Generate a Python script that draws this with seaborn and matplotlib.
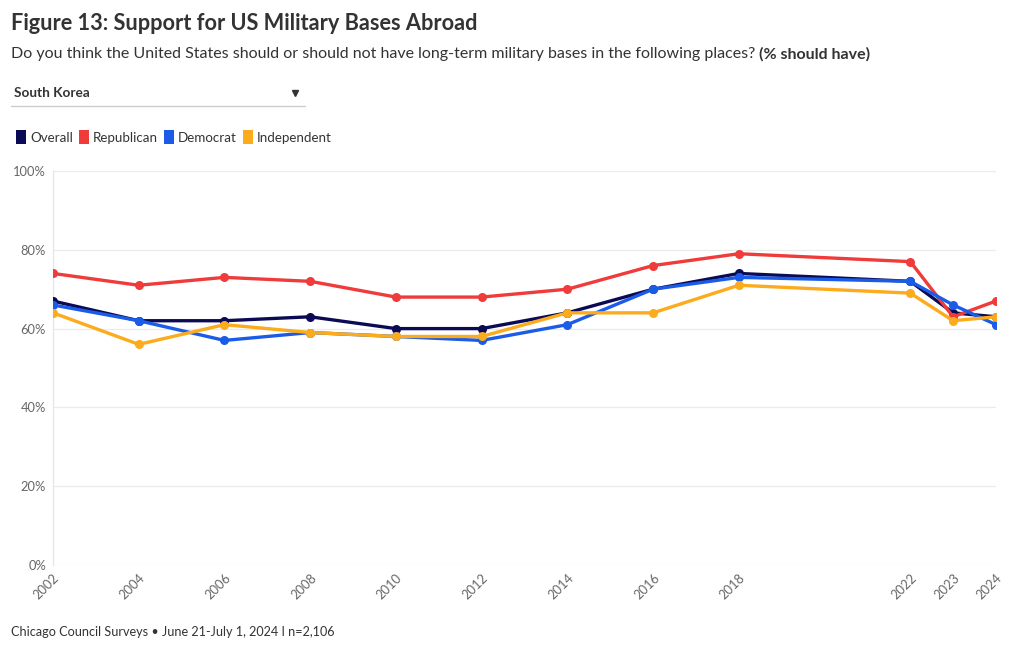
import numpy as np
import pandas as pd
import matplotlib
matplotlib.use("Agg")
import matplotlib.pyplot as plt
from matplotlib.lines import Line2D
from matplotlib.patches import Patch
import seaborn as sns

years = [2002, 2004, 2006, 2008, 2010, 2012, 2014, 2016, 2018, 2022, 2023, 2024]
overall = [67, 62, 62, 63, 60, 60, 64, 70, 74, 72, 64, 63]
republican = [74, 71, 73, 72, 68, 68, 70, 76, 79, 77, 63, 67]
democrat = [66, 62, 57, 59, 58, 57, 61, 70, 73, 72, 66, 61]
independent = [64, 56, 61, 59, 58, 58, 64, 64, 71, 69, 62, 63]
series_names = ["Overall", "Republican", "Democrat", "Independent"]
colors = ["#0b0b55", "#f03b3b", "#1a5be8", "#fbab1c"]
y_ticks = [0, 20, 40, 60, 80, 100]

sns.set_theme(style="white")
plt.rcParams["font.family"] = ["Lato", "DejaVu Sans"]

rows = []
for name, vals in zip(series_names, [overall, republican, democrat, independent]):
    for y, v in zip(years, vals):
        rows.append({"year": y, "value": v, "group": name})
df = pd.DataFrame(rows)

fig = plt.figure(figsize=(10.2, 6.5), dpi=100)
ax = fig.add_axes([53 / 1020, 1 - 565 / 650, (996 - 53) / 1020, (565 - 171) / 650])

sns.lineplot(data=df, x="year", y="value", hue="group", hue_order=series_names,
             palette=colors, marker="o", markersize=6.5, markeredgewidth=0,
             linewidth=2.4, ax=ax, legend=False, zorder=3)

ax.set_xlim(2002, 2024)
ax.set_ylim(0, 100)
ax.set_yticks(y_ticks)
ax.set_yticklabels([f"{t}%" for t in y_ticks])
ax.set_xticks(years)
ax.set_xticklabels([str(y) for y in years], rotation=45, ha="right", va="top",
                   rotation_mode="anchor")
ax.tick_params(axis="both", labelsize=9.3, colors="#666666", length=0, pad=5)
ax.set_xlabel("")
ax.set_ylabel("")
ax.grid(axis="y", color="#ebebeb", linewidth=0.9)
for s in ["top", "right", "bottom"]:
    ax.spines[s].set_visible(False)
ax.spines["left"].set_color("#e6e6e6")
ax.spines["left"].set_linewidth(0.9)
ax.set_axisbelow(True)

fig.text(11 / 1020, 1 - 24 / 650, "Figure 13: Support for US Military Bases Abroad",
         fontsize=15.7, fontweight="bold", color="#333333", va="center", ha="left")
sub = fig.text(11 / 1020, 1 - 54 / 650,
               "Do you think the United States should or should not have long-term military bases in the following places? ",
               fontsize=11.5, color="#333333", va="center", ha="left")
fig.canvas.draw()
bb = sub.get_window_extent()
fig.text(bb.x1 / 1020, 1 - 54 / 650, "(% should have)", fontsize=11.5, fontweight="bold",
         color="#333333", va="center", ha="left")

fig.text(14 / 1020, 1 - 93 / 650, "South Korea", fontsize=9.8, fontweight="bold",
         color="#333333", va="center", ha="left")
fig.add_artist(Line2D([11 / 1020, 305 / 1020], [1 - 106 / 650, 1 - 106 / 650],
                      color="#cccccc", linewidth=1, transform=fig.transFigure))
fig.add_artist(Line2D([295 / 1020], [1 - 93 / 650], marker="v", markersize=5,
                      color="#333333", linestyle="none", transform=fig.transFigure))

handles = [Patch(facecolor=c, edgecolor="none") for c in colors]
fig.legend(handles, series_names, loc="center left",
           bbox_to_anchor=(4 / 1020, 1 - 137 / 650), ncol=4, frameon=False,
           handlelength=0.75, handleheight=1.2, handletextpad=0.3, columnspacing=0.45,
           fontsize=9.6, labelcolor="#333333")

fig.text(11 / 1020, 1 - 632 / 650, "Chicago Council Surveys \u2022 June 21-July 1, 2024 I n=2,106",
         fontsize=9.1, color="#333333", va="center", ha="left")

fig.savefig("out.png", dpi=100, facecolor="white")
